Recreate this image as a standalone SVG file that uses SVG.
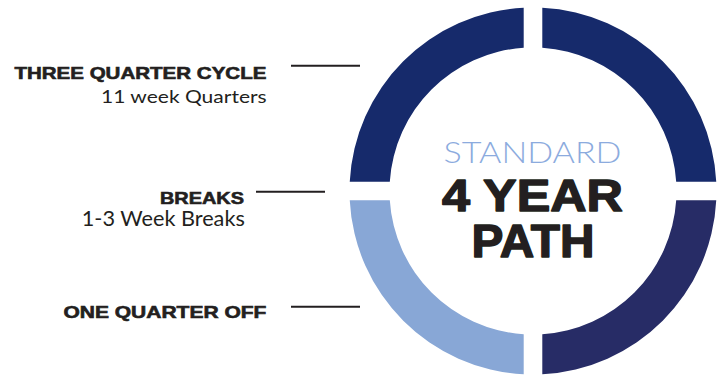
<svg xmlns="http://www.w3.org/2000/svg" width="724" height="376" viewBox="0 0 724 376">
<style>
.lbl{font-family:"Liberation Sans",Arial,sans-serif;font-weight:bold;fill:#231f20;stroke:#231f20;stroke-width:0.6;text-anchor:end}
.sub{font-family:Lato,"Liberation Sans",Arial,sans-serif;font-weight:400;fill:#231f20;text-anchor:end}
.big{font-family:"Liberation Sans",Arial,sans-serif;font-weight:bold;fill:#231f20;stroke:#231f20;stroke-width:1.4;stroke-linejoin:round;text-anchor:middle}
.thin{font-family:Lato,"Liberation Sans",Arial,sans-serif;font-weight:300;fill:#8cabde;text-anchor:middle}
.conn{stroke:#231f20;stroke-width:2;fill:none}
</style>
<rect width="724" height="376" fill="#ffffff"/>
<g id="ring">
<path id="q-top-left" fill="#162a6b" d="M 523.7 7.74 A 183.5 183.5 0 0 0 349.74 181.7 L 389.8 181.7 A 143.5 143.5 0 0 1 523.7 47.8 Z"/>
<path id="q-top-right" fill="#162a6b" d="M 542.3 7.74 L 542.3 47.8 A 143.5 143.5 0 0 1 676.2 181.7 L 716.26 181.7 A 183.5 183.5 0 0 0 542.3 7.74 Z"/>
<path id="q-bottom-right" fill="#272c66" d="M 716.26 200.3 L 676.2 200.3 A 143.5 143.5 0 0 1 542.3 334.2 L 542.3 374.26 A 183.5 183.5 0 0 0 716.26 200.3 Z"/>
<path id="q-bottom-left" fill="#88a7d6" d="M 523.7 374.26 L 523.7 334.2 A 143.5 143.5 0 0 1 389.8 200.3 L 349.74 200.3 A 183.5 183.5 0 0 0 523.7 374.26 Z"/>
</g>
<g id="center-title">
<text class="thin" x="532.5" y="163.3" font-size="30" textLength="178" lengthAdjust="spacingAndGlyphs">STANDARD</text>
<text class="big" x="532.5" y="210.5" font-size="45" textLength="181" lengthAdjust="spacingAndGlyphs">4 YEAR</text>
<text class="big" x="533" y="257.3" font-size="46" textLength="123" lengthAdjust="spacingAndGlyphs">PATH</text>
</g>
<g id="label-three-quarter">
<text class="lbl" x="266.4" y="79.3" font-size="16.7" textLength="252" lengthAdjust="spacingAndGlyphs">THREE QUARTER CYCLE</text>
<text class="sub" x="266.7" y="103.3" font-size="17.3" textLength="165.7" lengthAdjust="spacingAndGlyphs">11 week Quarters</text>
</g>
<g id="label-breaks">
<text class="lbl" x="244" y="204.3" font-size="16.7" textLength="84" lengthAdjust="spacingAndGlyphs">BREAKS</text>
<text class="sub" x="244.8" y="226" font-size="20.5" textLength="163" lengthAdjust="spacingAndGlyphs">1-3 Week Breaks</text>
</g>
<g id="label-one-quarter-off">
<text class="lbl" x="266.4" y="318.3" font-size="16.7" textLength="203" lengthAdjust="spacingAndGlyphs">ONE QUARTER OFF</text>
</g>
<g id="connectors">
<line class="conn" x1="291" y1="65.7" x2="360" y2="65.7"/>
<line class="conn" x1="256" y1="191.7" x2="325" y2="191.7"/>
<line class="conn" x1="291" y1="306.7" x2="360" y2="306.7"/>
</g>
</svg>
